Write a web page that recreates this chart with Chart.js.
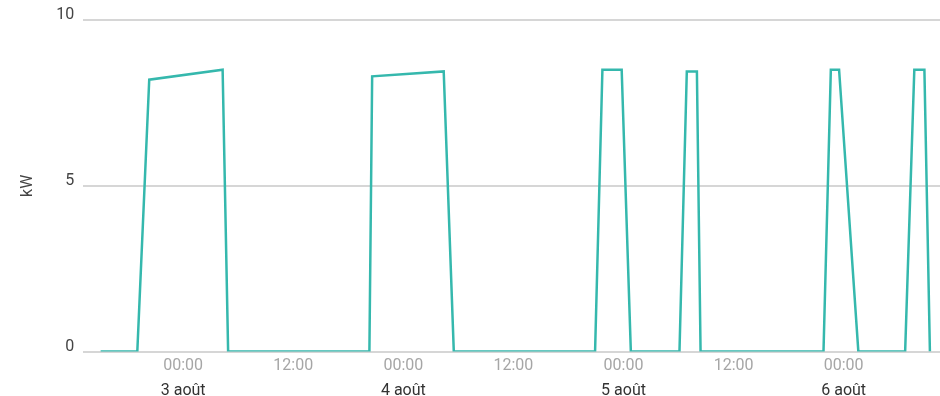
<!DOCTYPE html>
<html>
<head>
<meta charset="utf-8">
<script src="https://cdn.jsdelivr.net/npm/chart.js@4/dist/chart.umd.min.js"></script>
<style>
    html, body { margin: 0; padding: 0; background: #fff; }
    #wrap { width: 940px; height: 396px; }
</style>
</head>
<body>
<div id="wrap"><canvas id="powerChart"></canvas></div>
<script>
// hours counted from 3 août 00:00
const hours = [-9.0, -5.0, -3.7, 4.3, 4.9, 20.3, 20.6, 28.4, 29.5, 44.9, 45.7, 47.8, 48.8,
               54.1, 54.9, 56.0, 56.4, 69.8, 70.6, 71.5, 73.6, 78.7, 79.7, 80.8, 81.4];
const power = [0, 0, 8.2, 8.5, 0, 0, 8.3, 8.45, 0, 0, 8.5, 8.5, 0,
               0, 8.45, 8.45, 0, 0, 8.5, 8.5, 0, 0, 8.5, 8.5, 0];

const timeTicks = [0, 12, 24, 36, 48, 60, 72];
const timeLabels = ["00:00", "12:00", "00:00", "12:00", "00:00", "12:00", "00:00"];
const dateTicks = [0, 24, 48, 72];
const dateLabels = ["3 août", "4 août", "5 août", "6 août"];
const yTicks = [0, 5, 10];

const xMin = -10.9;
const xMax = 82.5;

const points = hours.map((h, i) => ({ x: h, y: power[i] }));

Chart.defaults.font.family = "Roboto, 'Liberation Sans', sans-serif";
Chart.defaults.font.size = 16;

const ctx = document.getElementById('powerChart').getContext('2d');
new Chart(ctx, {
    type: 'line',
    data: {
        datasets: [{
            data: points,
            borderColor: '#35b8ad',
            borderWidth: 2.5,
            pointRadius: 0,
            tension: 0,
            fill: false,
            xAxisID: 'x',
            yAxisID: 'y'
        }]
    },
    options: {
        responsive: true,
        maintainAspectRatio: false,
        animation: false,
        layout: { padding: { top: 20, left: 10, right: 0, bottom: -6 } },
        plugins: { legend: { display: false }, tooltip: { enabled: false } },
        scales: {
            x: {
                type: 'linear',
                position: 'bottom',
                min: xMin,
                max: xMax,
                grid: { display: false, drawTicks: false },
                border: { display: false },
                afterBuildTicks: axis => { axis.ticks = timeTicks.map(v => ({ value: v })); },
                ticks: {
                    padding: 5,
                    color: '#a6a6a6',
                    maxRotation: 0,
                    autoSkip: false,
                    callback: (value) => timeLabels[timeTicks.indexOf(value)]
                }
            },
            x2: {
                type: 'linear',
                position: 'bottom',
                min: xMin,
                max: xMax,
                grid: { display: false, drawTicks: false },
                border: { display: false },
                afterBuildTicks: axis => { axis.ticks = dateTicks.map(v => ({ value: v })); },
                ticks: {
                    padding: 1,
                    color: '#333',
                    maxRotation: 0,
                    autoSkip: false,
                    callback: (value) => dateLabels[dateTicks.indexOf(value)]
                }
            },
            y: {
                min: 0,
                max: 10,
                afterBuildTicks: axis => { axis.ticks = yTicks.map(v => ({ value: v })); },
                grid: { color: '#d6d6d6', lineWidth: 2, drawTicks: false },
                border: { display: false },
                ticks: { padding: 9, color: '#444', labelOffset: -5 },
                title: {
                    display: true,
                    text: 'kW',
                    color: '#444',
                    font: { size: 16 },
                    padding: { top: 8, bottom: 10 }
                }
            }
        }
    }
});
</script>
</body>
</html>
